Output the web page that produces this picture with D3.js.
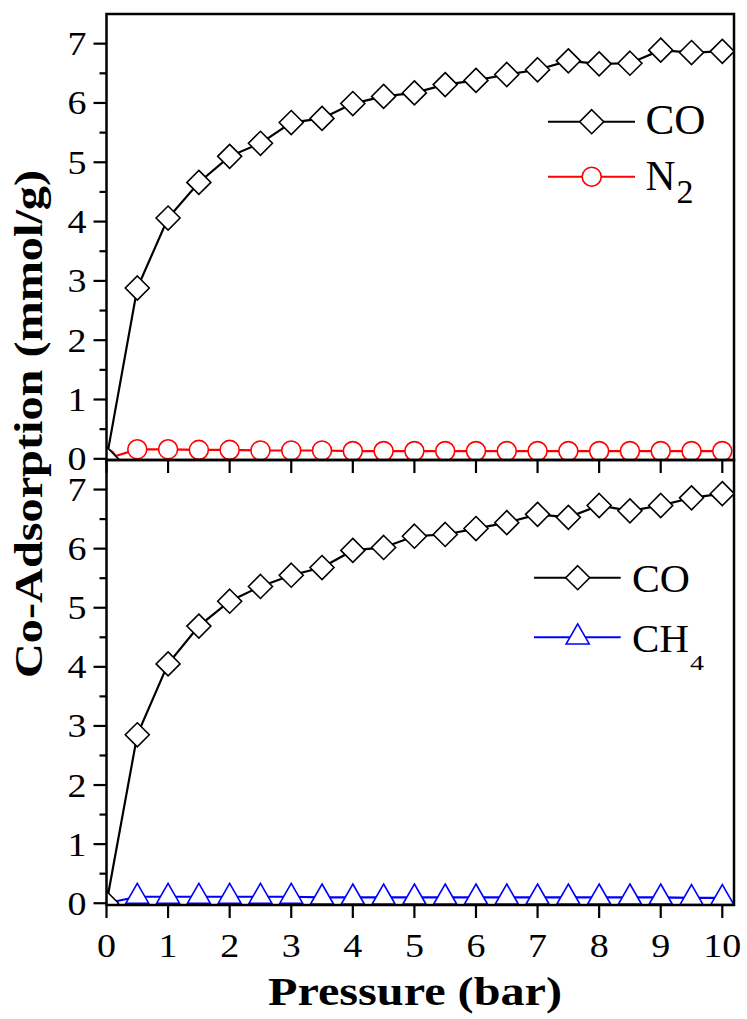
<!DOCTYPE html>
<html><head><meta charset="utf-8">
<script src="https://cdn.jsdelivr.net/npm/d3@7"></script>
<style>body{margin:0;background:#fff}svg{display:block}</style>
</head><body>
<script>
const pressure = [0,0.5,1,1.5,2,2.5,3,3.5,4,4.5,5,5.5,6,6.5,7,7.5,8,8.5,9,9.5,10];
const coTop = [0,2.88,4.06,4.66,5.10,5.32,5.67,5.74,5.99,6.11,6.17,6.31,6.38,6.48,6.56,6.71,6.66,6.67,6.89,6.85,6.87];
const n2 = [0,0.16,0.16,0.15,0.15,0.14,0.14,0.14,0.13,0.13,0.13,0.13,0.13,0.13,0.13,0.13,0.13,0.13,0.13,0.13,0.13];
const coBottom = [0,2.85,4.05,4.69,5.11,5.36,5.55,5.68,5.97,6.02,6.21,6.24,6.34,6.44,6.58,6.53,6.73,6.64,6.73,6.86,6.93];
const ch4 = [0,0.11,0.11,0.11,0.11,0.11,0.11,0.10,0.10,0.10,0.10,0.10,0.10,0.10,0.10,0.10,0.10,0.10,0.10,0.09,0.09];
const xTicks = [0,1,2,3,4,5,6,7,8,9,10];
const yTicks = [0,1,2,3,4,5,6,7];
const yMinor = [0.5,1.5,2.5,3.5,4.5,5.5,6.5];
const xLabel = "Pressure (bar)";
const yLabel = "Co-Adsorption (mmol/g)";

// pick a Times-like font if present
function hasFont(f) {
  const c = document.createElement("canvas").getContext("2d");
  const s = "mmmmmmmmmmlli10OCHWw";
  c.font = "72px monospace"; const a = c.measureText(s).width;
  c.font = `72px "${f}", monospace`; const b = c.measureText(s).width;
  return a !== b;
}
const candidates = [["Liberation Serif", .662], ["Tinos", .662], ["Times New Roman", .662], ["Nimbus Roman", .662],
  ["Nimbus Roman No9 L", .662], ["FreeSerif", .662], ["DejaVu Serif", .729]];
let FONT = "serif", CAP = .70;
for (const [f, c] of candidates) { if (hasFont(f)) { FONT = f; CAP = c; break; } }
const fs = cap => cap / CAP;   // font size from target cap height

const W = 747, H = 1019;
const L = 106.5, R = 734;
const svg = d3.select("body").append("svg").attr("width", W).attr("height", H)
  .attr("font-family", FONT);

const x = d3.scaleLinear().domain([0, 10.19]).range([L, R]);
const panels = [
  {top: 14, bottom: 460, yd: [-0.02, 7.5], series: [
    {name: "N2", vals: n2, color: "#ff0000", sym: "circle"},
    {name: "CO", vals: coTop, color: "#000000", sym: "diamond"}],
   legend: {x1: 548, x2: 635, xm: 591.7, tx: 645.5, rows: [
     {y: 121.7, color: "#000", sym: "diamond", main: "CO", base: 134.3, cap: 27.6, len: 60},
     {y: 176.7, color: "#ff0000", sym: "circle", main: "N", sub: "2", base: 190, cap: 27.6, len: 30, subCap: 22.5, subLen: 17, subDy: 13}]}},
  {top: 460, bottom: 905, yd: [-0.03, 7.5], series: [
    {name: "CH4", vals: ch4, color: "#0000ff", sym: "triangle"},
    {name: "CO", vals: coBottom, color: "#000000", sym: "diamond"}],
   legend: {x1: 534, x2: 620.7, xm: 577.7, tx: 632, rows: [
     {y: 577.7, color: "#000", sym: "diamond", main: "CO", base: 591.5, cap: 26.7, len: 58},
     {y: 637.3, color: "#0000ff", sym: "triangle", main: "CH", sub: "4", base: 651.5, cap: 26.7, len: 57, subCap: 14.5, subLen: 14, subDy: 18}]}}
];

function symbolPath(sym) {
  if (sym === "diamond") { const h = 12; return `M0,${-h}L${h},0L0,${h}L${-h},0Z`; }
  if (sym === "circle") { const r = 9.5; return `M${r},0A${r},${r},0,1,1,${-r},0A${r},${r},0,1,1,${r},0Z`; }
  const w = 11.5, ht = 20; return `M0,${-ht*2/3}L${w},${ht/3}L${-w},${ht/3}Z`;
}

function fitText(g, tx, ty, str, cap, len, anchor, weight, rot) {
  return g.append("text")
    .attr("transform", `translate(${tx},${ty})` + (rot ? ` rotate(${rot})` : ""))
    .attr("font-family", FONT).attr("fill", "#000")
    .attr("text-anchor", anchor).attr("font-size", fs(cap)).attr("font-weight", weight)
    .attr("textLength", len).attr("lengthAdjust", "spacingAndGlyphs").text(str);
}

panels.forEach((p, i) => {
  const y = d3.scaleLinear().domain(p.yd).range([p.bottom, p.top]);
  const g = svg.append("g");
  const clipId = "clip" + i;
  svg.append("clipPath").attr("id", clipId).append("rect")
    .attr("x", L).attr("y", p.top).attr("width", R - L).attr("height", p.bottom - p.top);
  const plot = g.append("g").attr("clip-path", `url(#${clipId})`);
  p.series.forEach(s => {
    const pts = pressure.map((px, k) => [px, s.vals[k]]);
    plot.append("path").datum(pts)
      .attr("d", d3.line().x(d => x(d[0])).y(d => y(d[1])))
      .attr("fill", "none").attr("stroke", s.color).attr("stroke-width", 2.2);
    plot.selectAll(null).data(pts).enter().append("path")
      .attr("transform", d => `translate(${x(d[0])},${y(d[1])})`)
      .attr("d", symbolPath(s.sym)).attr("fill", "#fff").attr("stroke", s.color).attr("stroke-width", 1.6);
  });
  g.append("rect").attr("x", L).attr("y", p.top).attr("width", R - L).attr("height", p.bottom - p.top)
    .attr("fill", "none").attr("stroke", "#000").attr("stroke-width", 2.5);
  g.selectAll(null).data(yTicks).enter().append("line")
    .attr("x1", L - 13).attr("x2", L).attr("y1", d => y(d)).attr("y2", d => y(d))
    .attr("stroke", "#000").attr("stroke-width", 2.2);
  g.selectAll(null).data(yMinor).enter().append("line")
    .attr("x1", L - 7).attr("x2", L).attr("y1", d => y(d)).attr("y2", d => y(d))
    .attr("stroke", "#000").attr("stroke-width", 2.2);
  yTicks.forEach(t => fitText(g, 86.5, y(t) + 11.5, String(t), 23, 19, "end", "normal"));
  g.selectAll(null).data(xTicks).enter().append("line")
    .attr("x1", d => x(d)).attr("x2", d => x(d)).attr("y1", p.bottom).attr("y2", p.bottom + 13)
    .attr("stroke", "#000").attr("stroke-width", 2.2);
  const lg = p.legend;
  lg.rows.forEach(r => {
    g.append("line").attr("x1", lg.x1).attr("x2", lg.x2).attr("y1", r.y).attr("y2", r.y)
      .attr("stroke", r.color).attr("stroke-width", 2);
    g.append("path").attr("transform", `translate(${lg.xm},${r.y})`).attr("d", symbolPath(r.sym))
      .attr("fill", "#fff").attr("stroke", r.color).attr("stroke-width", 1.6);
    fitText(g, lg.tx, r.base, r.main, r.cap, r.len, "start", "normal");
    if (r.sub) fitText(g, lg.tx + r.len + 1, r.base + r.subDy, r.sub, r.subCap, r.subLen, "start", "normal");
  });
});

xTicks.forEach(t => fitText(svg, x(t), 957, String(t), 23, t === 10 ? 38 : 19, "middle", "normal"));
fitText(svg, 415, 1005, xLabel, 27, 294, "middle", "bold");
fitText(svg, 42, 424, yLabel, 26.5, 508, "middle", "bold", -90);
</script>
</body></html>
